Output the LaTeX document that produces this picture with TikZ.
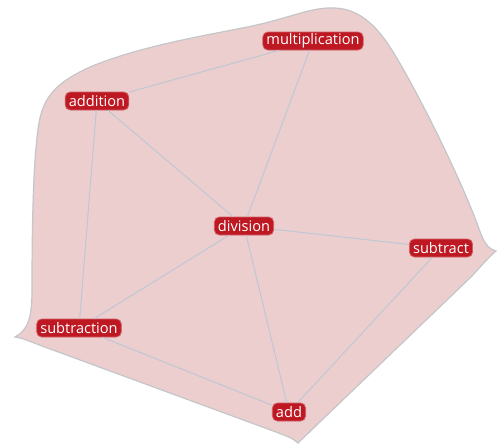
\documentclass[tikz,border=0pt]{standalone}
\usepackage{fontspec}
\setmainfont{Open Sans}
\usetikzlibrary{positioning}
\definecolor{termred}{RGB}{190,24,34}
\definecolor{hullfill}{RGB}{236,206,207}
\definecolor{hulldraw}{RGB}{196,198,200}
\definecolor{linkgray}{RGB}{190,200,210}

\begin{document}
\begin{tikzpicture}[x=0.5pt, y=-0.5pt,
  term/.style={rectangle, rounded corners=2.5pt, fill=termred, draw=termred!70!white,
               text=white, inner xsep=1.8pt, inner ysep=0pt, minimum height=9pt,
               font=\fontsize{7.3}{8}\selectfont},
  link/.style={draw=linkgray, line width=0.5pt}
]
\useasboundingbox (0,0) rectangle (498,445);
% cluster hull
\fill[hullfill, draw=hulldraw, line width=0.6pt]
  (15,337) .. controls (28,330) and (32,318) .. (32,290)
  .. controls (32,230) and (33,150) .. (40,118)
  .. controls (46,92) and (62,80) .. (90,67)
  .. controls (150,42) and (230,32) .. (265,23)
  .. controls (300,14) and (315,7) .. (335,8)
  .. controls (362,9) and (380,30) .. (395,55)
  .. controls (422,100) and (462,182) .. (478,226)
  .. controls (483,240) and (486,248) .. (496,251)
  .. controls (490,256) and (481,266) .. (472,276)
  -- (298,443)
  .. controls (293,438) and (286,436) .. (276,432)
  -- (42,346)
  .. controls (31,342) and (23,338) .. (15,337) -- cycle;
% terms
\node[term] (mult) at (313,41)  {multiplication};
\node[term] (addi) at (97,101)  {addition};
\node[term] (div)  at (244,226) {division};
\node[term] (subt) at (441,248) {subtract};
\node[term] (subn) at (79,328)  {subtraction};
\node[term] (add)  at (289,412) {add};
% links
\draw[link] (mult) -- (addi);
\draw[link] (mult) -- (div);
\draw[link] (addi) -- (div);
\draw[link] (addi) -- (subn);
\draw[link] (div)  -- (subn);
\draw[link] (div)  -- (subt);
\draw[link] (div)  -- (add);
\draw[link] (subn) -- (add);
\draw[link] (subt) -- (add);
\end{tikzpicture}
\end{document}
